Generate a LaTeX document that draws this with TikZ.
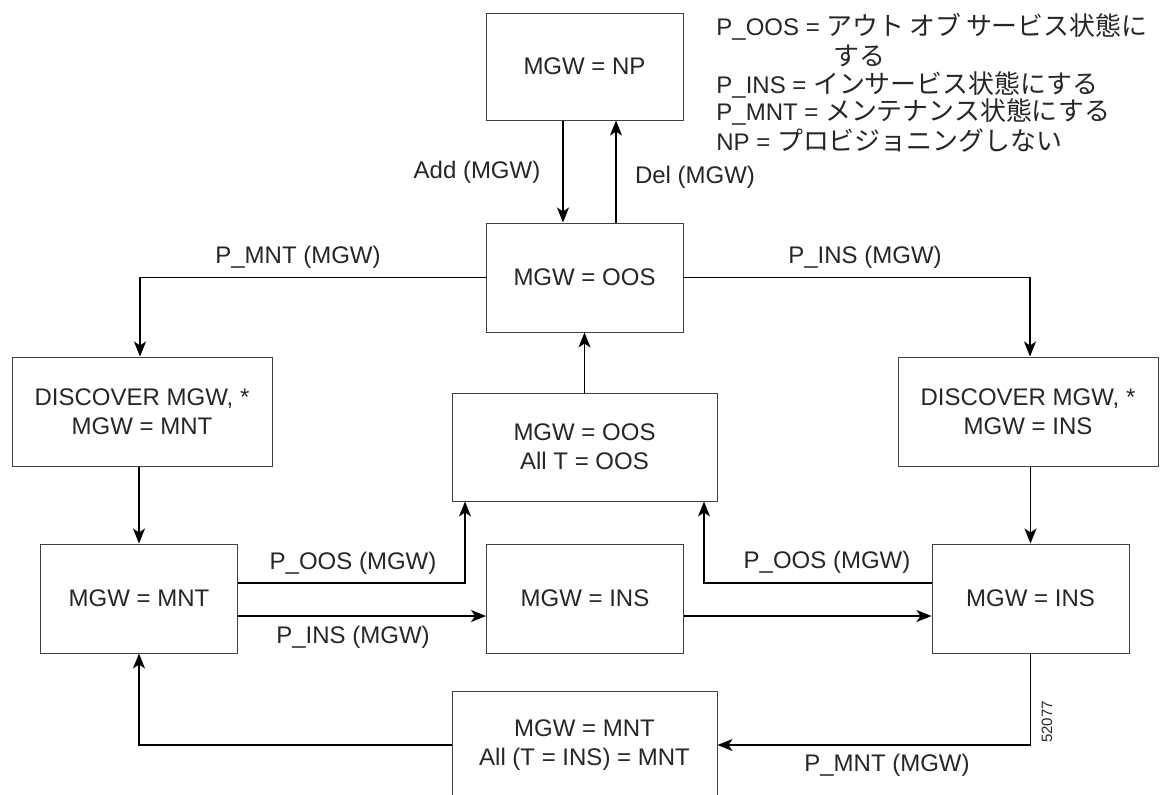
\documentclass[tikz,border=0pt]{standalone}
\usepackage{fontspec}
\setmainfont{Liberation Sans}
\newfontfamily\jpfont[Scale=1.08]{Noto Sans CJK JP}
\usetikzlibrary{arrows.meta}

\tikzset{
  state/.style={rectangle, draw=black!75, line width=0.5pt, inner sep=0pt,
    minimum width=98.5pt, minimum height=54.5pt, align=center, text=black!85},
  widestate/.style={state, minimum width=132.5pt, minimum height=54pt},
  discstate/.style={state, minimum width=130pt},
  lbl/.style={inner sep=0pt, text=black!85},
  trans/.style={-{Stealth[length=7.5pt,width=6pt,inset=2pt]}, line width=0.65pt}
}

\begin{document}
\begin{tikzpicture}[x=0.5pt, y=-0.5pt, font=\fontsize{12}{14.5}\selectfont]
      \useasboundingbox (0,0) rectangle (1167,794);

      % Nodes
      \node (np) at (584.5,66.5) [state, minimum height=53.5pt] {MGW = NP};
      \node (oos) at (584.5,277.5) [state] {MGW = OOS};
      \node (dmnt) at (142,411.5) [discstate] {DISCOVER MGW, *\\MGW = MNT};
      \node (dins) at (1028,411.5) [discstate] {DISCOVER MGW, *\\MGW = INS};
      \node (oosall) at (584.5,447) [widestate] {MGW = OOS\\All T = OOS};
      \node (mnt) at (139,598.5) [state] {MGW = MNT};
      \node (insmid) at (585,598.5) [state] {MGW = INS};
      \node (insr) at (1030.5,598.5) [state] {MGW = INS};
      \node (mntall) at (584.5,745) [widestate] {MGW = MNT\\All (T = INS) = MNT};

      % Legend
      \node (leg1) at (716,27) [lbl, anchor=west] {P\_OOS = {\jpfont アウト\hspace{2.5pt}オブ\hspace{2.5pt}サービス状態に}};
      \node (leg2) at (833,56) [lbl, anchor=west] {\jpfont する};
      \node (leg3) at (716,85) [lbl, anchor=west] {P\_INS = {\jpfont インサービス状態にする}};
      \node (leg4) at (716,112) [lbl, anchor=west] {P\_MNT = {\jpfont メンテナンス状態にする}};
      \node (leg5) at (716,140) [lbl, anchor=west] {NP = {\jpfont プロビジョニングしない}};

      % Labels
      \node (addlbl) at (477,172) [lbl] {Add (MGW)};
      \node (dellbl) at (695,177) [lbl] {Del (MGW)};
      \node (pmnttop) at (298,257) [lbl] {P\_MNT (MGW)};
      \node (pinstop) at (865,257) [lbl] {P\_INS (MGW)};
      \node (pooslft) at (353,563) [lbl] {P\_OOS (MGW)};
      \node (pinslft) at (353,637) [lbl] {P\_INS (MGW)};
      \node (poosrgt) at (827,562) [lbl] {P\_OOS (MGW)};
      \node (pmntbot) at (887,765) [lbl] {P\_MNT (MGW)};
      \node (figno) at (1047,722) [lbl, rotate=90, font=\fontsize{7.5}{9}\selectfont] {52077};

      % Edges
      \draw[trans] (np.south -| 563,0) -- (oos.north -| 563,0);
      \draw[trans] (oos.north -| 616,0) -- (np.south -| 616,0);
      \draw[trans] (oos.west) -| (dmnt.north -| 140,0);
      \draw[trans] (oos.east) -| (dins.north -| 1030,0);
      \draw[trans] (dmnt.south -| mnt.north) -- (mnt.north);
      \draw[trans] (dins.south -| insr.north) -- (insr.north);
      \draw[trans] (oosall.north) -- (oos.south);
      \draw[trans] (mnt.east |- 0,583) -| (oosall.south -| 465,0);
      \draw[trans] (mnt.east |- 0,616) -- (insmid.west |- 0,616);
      \draw[trans] (insmid.east |- 0,616) -- (insr.west |- 0,616);
      \draw[trans] (insr.west |- 0,583) -| (oosall.south -| 704,0);
      \draw[trans] (insr.south) |- (mntall.east);
      \draw[trans] (mntall.west) -| (mnt.south);
  \end{tikzpicture}
\end{document}
